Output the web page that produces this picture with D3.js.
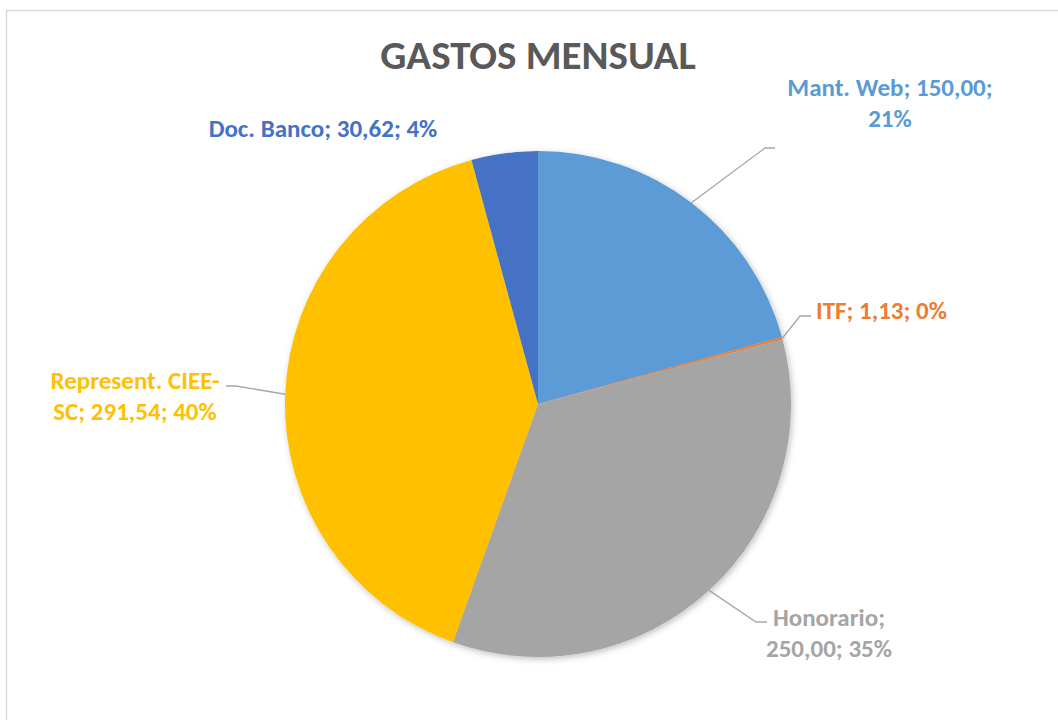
<!DOCTYPE html>
<html>
<head>
<meta charset="utf-8">
<script src="https://cdn.jsdelivr.net/npm/d3@7"></script>
<style>
  body { margin: 0; background: #fff; }
  svg { display: block; font-family: Carlito, Calibri, Lato, "Open Sans", sans-serif; }
</style>
</head>
<body>
<svg width="1058" height="720"></svg>
<script>
const svg = d3.select("svg");

// DATA
const categories = ["Mant. Web", "ITF", "Honorario", "Represent. CIEE-SC", "Doc. Banco"];
const values = [150.00, 1.13, 250.00, 291.54, 30.62];
const colors = ["#5B9BD5", "#ED7D31", "#A5A5A5", "#FFC000", "#4472C4"];
// label text split into lines as shown in the chart
const labelLines = [
  ["Mant. Web; 150,00;", "21%"],
  ["ITF; 1,13; 0%"],
  ["Honorario;", "250,00; 35%"],
  ["Represent. CIEE-", "SC; 291,54; 40%"],
  ["Doc. Banco; 30,62; 4%"]
];

// CONSTANTS
const cx = 538, cy = 404, radius = 253;
const lineH = 31;

// label layout, relative to pie centre: elbow point, elbow end, text anchor, first line centre
const labelLayout = [
  { elbow: [227, -256], end: [237, -256], tx: 352, ty: -317, anchor: "middle", leader: true },
  { elbow: [262, -88], end: [273, -88], tx: 278, ty: -94, anchor: "start", leader: true },
  { elbow: [218, 218], end: [229, 218], tx: 291, ty: 213, anchor: "middle", leader: true },
  { elbow: [-302, -18], end: [-312, -18], tx: -403, ty: -24, anchor: "middle", leader: true },
  { tx: -215, ty: -276, anchor: "middle", leader: false }
];

// border
svg.append("rect")
  .attr("x", 6.5).attr("y", 10.5)
  .attr("width", 1070).attr("height", 730)
  .attr("fill", "none")
  .attr("stroke", "#d9d9d9")
  .attr("stroke-width", 1.5);

// title
svg.append("text")
  .attr("x", cx).attr("y", 69)
  .attr("text-anchor", "middle")
  .attr("font-size", 41)
  .attr("font-weight", "bold")
  .attr("fill", "#595959")
  .text("GASTOS MENSUAL");

const defs = svg.append("defs");
const filter = defs.append("filter").attr("id", "shadow")
  .attr("x", "-10%").attr("y", "-10%").attr("width", "120%").attr("height", "120%");
filter.append("feDropShadow")
  .attr("dx", 1.5).attr("dy", 2)
  .attr("stdDeviation", 3)
  .attr("flood-color", "#000")
  .attr("flood-opacity", 0.25);

const pie = d3.pie().sort(null).value(d => d.value);
const arc = d3.arc().innerRadius(0).outerRadius(radius);

const data = categories.map((c, i) => ({ name: c, value: values[i], color: colors[i], i }));
const arcs = pie(data);

const g = svg.append("g").attr("transform", `translate(${cx}, ${cy})`);

g.append("g").attr("filter", "url(#shadow)")
  .selectAll("path")
  .data(arcs)
  .enter()
  .append("path")
  .attr("d", arc)
  .attr("fill", d => d.data.color);

// leader lines start at the middle of each slice's outer edge
const edgePoint = d => {
  const a = (d.startAngle + d.endAngle) / 2;
  return [radius * Math.sin(a), -radius * Math.cos(a)];
};

g.selectAll("polyline.leader")
  .data(arcs.filter(d => labelLayout[d.data.i].leader))
  .enter()
  .append("polyline")
  .attr("class", "leader")
  .attr("points", d => {
    const L = labelLayout[d.data.i];
    return [edgePoint(d), L.elbow, L.end].map(p => p.join(",")).join(" ");
  })
  .attr("fill", "none")
  .attr("stroke", "#a6a6a6")
  .attr("stroke-width", 1.3);

// labels
const labels = g.selectAll("text.label")
  .data(arcs)
  .enter()
  .append("text")
  .attr("class", "label")
  .attr("text-anchor", d => labelLayout[d.data.i].anchor)
  .attr("font-size", 25)
  .attr("font-weight", "bold")
  .attr("fill", d => d.data.color);

labels.selectAll("tspan")
  .data(d => labelLines[d.data.i].map((t, k) => ({ t, k, L: labelLayout[d.data.i] })))
  .enter()
  .append("tspan")
  .attr("x", d => d.L.tx)
  .attr("y", d => d.L.ty + d.k * lineH)
  .attr("dy", "0.35em")
  .text(d => d.t);
</script>
</body>
</html>
